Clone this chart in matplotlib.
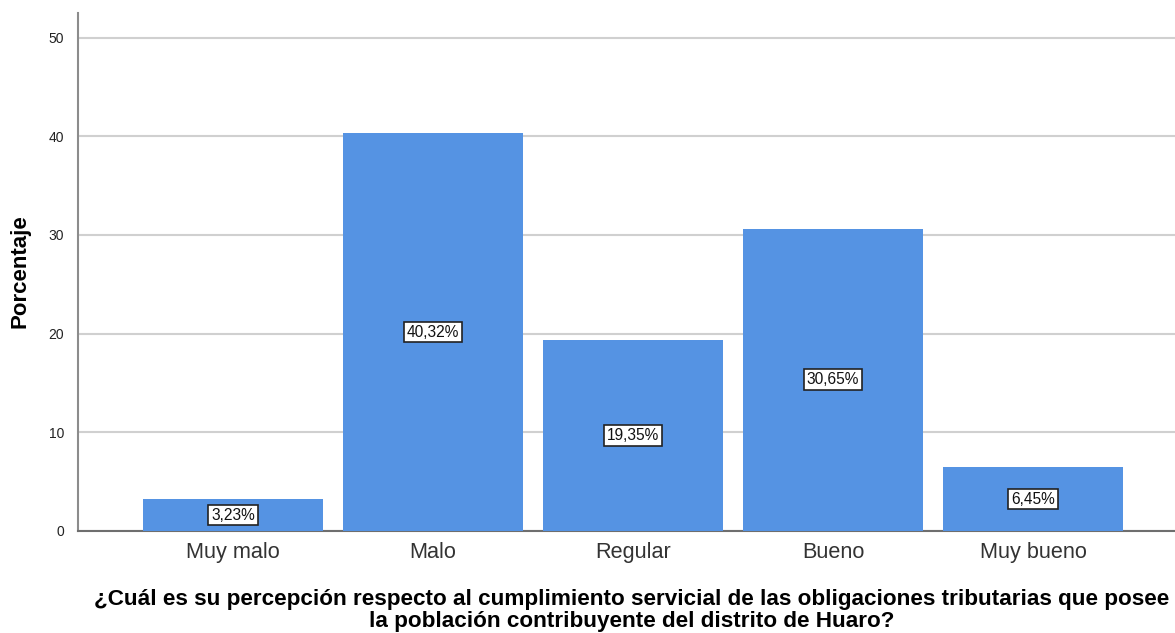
import matplotlib
matplotlib.use("Agg")
import matplotlib.pyplot as plt

categorias = ["Muy malo", "Malo", "Regular", "Bueno", "Muy bueno"]
porcentajes = [3.23, 40.32, 19.35, 30.65, 6.45]
etiquetas = ["3,23%", "40,32%", "19,35%", "30,65%", "6,45%"]
yticks = [0, 10, 20, 30, 40, 50]
titulo_x = ["¿Cuál es su percepción respecto al cumplimiento servicial de las obligaciones tributarias que posee",
            "la población contribuyente del distrito de Huaro?"]

plt.rcParams['font.family'] = ['Liberation Sans', 'DejaVu Sans']

fig = plt.figure(figsize=(11.75, 6.33), dpi=100)
ax = fig.add_axes([78 / 1175, 1 - 531 / 633, 1 - 78 / 1175, (531 - 13) / 633])

x = range(len(categorias))
ax.bar(x, porcentajes, width=0.9, color="#5593e3", zorder=3)

for xi, v, lab in zip(x, porcentajes, etiquetas):
    ax.text(xi, v / 2, lab, ha="center", va="center", fontsize=11.2, color="#111111",
            zorder=4,
            bbox=dict(boxstyle="square,pad=0.18", facecolor="white",
                      edgecolor="#222222", linewidth=1.2))

ax.set_xlim(-0.775, 4.71)
ax.set_ylim(0, 52.5)
ax.set_yticks(yticks)
ax.set_xticks(list(x))
ax.set_xticklabels(categorias, fontsize=15.6, color="#333333")
ax.tick_params(axis="x", length=0, pad=8)
ax.tick_params(axis="y", length=0, pad=10, labelsize=10, labelcolor="#222222")
ax.yaxis.grid(True, color="#d0d0d0", linewidth=1.5, zorder=0)

for s in ["top", "right"]:
    ax.spines[s].set_visible(False)
ax.spines["left"].set_color("#8c8c8c")
ax.spines["left"].set_linewidth(1.5)
ax.spines["bottom"].set_color("#6e6e6e")
ax.spines["bottom"].set_linewidth(1.5)

fig.text(20 / 1175, 1 - 271 / 633, "Porcentaje", rotation=90, ha="center", va="center",
         fontsize=16, fontweight="bold")
# axis title, two centred lines
for linea, ypix in zip(titulo_x, [600, 621]):
    fig.text(632 / 1175, 1 - ypix / 633, linea, ha="center", va="center",
             fontsize=16.2, fontweight="bold")

fig.savefig("out.png", dpi=100)
